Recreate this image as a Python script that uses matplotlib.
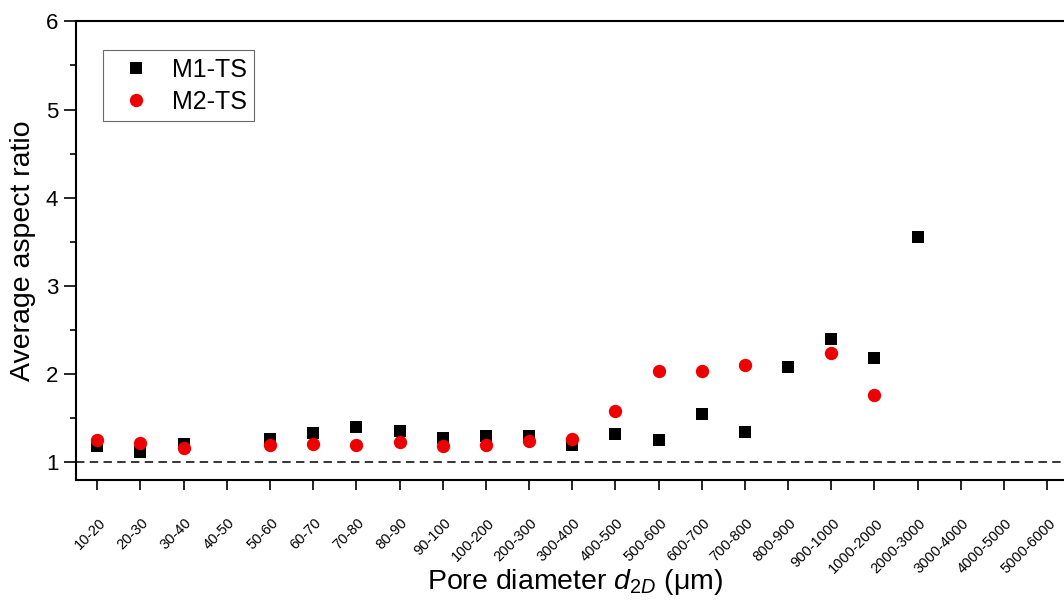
import numpy as np
import matplotlib
matplotlib.use("Agg")
import matplotlib.pyplot as plt
import matplotlib.transforms as mtransforms
from matplotlib.ticker import MultipleLocator

plt.rcParams['font.family'] = ['Liberation Sans', 'DejaVu Sans']
plt.rcParams['mathtext.fontset'] = 'custom'
plt.rcParams['mathtext.rm'] = 'Liberation Sans'
plt.rcParams['mathtext.it'] = 'Liberation Sans:italic'

# Pore-size classes (µm)
categories = ['10-20', '20-30', '30-40', '40-50', '50-60', '60-70', '70-80',
              '80-90', '90-100', '100-200', '200-300', '300-400', '400-500',
              '500-600', '600-700', '700-800', '800-900', '900-1000',
              '1000-2000', '2000-3000', '3000-4000', '4000-5000', '5000-6000']

nan = np.nan
# Average aspect ratio per class
m1_ts = [1.18, 1.12, 1.21, nan, 1.27, 1.33, 1.40, 1.36, 1.28, 1.30, 1.30,
         1.20, 1.32, 1.25, 1.55, 1.34, 2.08, 2.40, 2.18, 3.56, nan, nan, nan]
m2_ts = [1.25, 1.22, 1.16, nan, 1.20, 1.21, 1.20, 1.23, 1.18, 1.20, 1.24,
         1.27, 1.58, 2.04, 2.04, 2.10, nan, 2.24, 1.76, nan, nan, nan, nan]

reference_ratio = 1.0

W, H = 1064, 605
fig = plt.figure(figsize=(W / 100, H / 100), dpi=100)
ax_left, ax_right, ax_top, ax_bottom = 75.7, 1068.8, 21.3, 480.0
ax = fig.add_axes([ax_left / W, 1 - ax_bottom / H,
                   (ax_right - ax_left) / W, (ax_bottom - ax_top) / H])

x = np.arange(len(categories))
ax.axhline(reference_ratio, color='black', lw=1.1, ls=(0, (5.5, 3.5)), zorder=1)
ax.plot(x, m1_ts, ls='none', marker='s', ms=8.4, mfc='black', mec='black',
        mew=0, label='M1-TS', zorder=3)
ax.plot(x, m2_ts, ls='none', marker='o', ms=9.6, mfc='#ee0000', mec='#ee0000',
        mew=0, label='M2-TS', zorder=4)

ax.set_xlim(-0.5, len(categories) - 0.5)
ax.set_ylim(0.8, 6)

ax.yaxis.set_major_locator(MultipleLocator(1))
ax.yaxis.set_minor_locator(MultipleLocator(0.5))
ax.tick_params(axis='x', which='major', direction='out', length=7.2,
               width=1.2, pad=13)
ax.tick_params(axis='y', which='major', direction='out', length=8.5,
               width=1.2, pad=4, labelsize=16)
ax.tick_params(axis='y', which='minor', direction='out', length=4.5, width=1.2)
ax.tick_params(top=False, right=False)

ax.set_xticks(x)
ax.set_xticklabels(categories, rotation=45, ha='right', va='center',
                   rotation_mode='anchor', fontsize=10.5)
# nudge the slanted category labels so their ends sit under the ticks
offset = mtransforms.ScaledTranslation(6 / 100, -13 / 100, fig.dpi_scale_trans)
for lbl in ax.get_xticklabels():
    lbl.set_transform(lbl.get_transform() + offset)

for sp in ax.spines.values():
    sp.set_linewidth(1.5)

ax.set_ylabel('Average aspect ratio', fontsize=20.5)
ax.yaxis.set_label_coords(-0.040, 0.5)
ax.set_xlabel(r'Pore diameter $d_{2D}$ (μm)', fontsize=20.5)
ax.xaxis.set_label_coords(0.503, -0.19)

leg = ax.legend(loc='upper left', bbox_to_anchor=(0.0275, 0.9374),
                borderaxespad=0, fontsize=18, frameon=True, fancybox=False,
                edgecolor='#444444', handlelength=2.0, handletextpad=0.45,
                borderpad=0.3, labelspacing=0.33)
leg.get_frame().set_linewidth(0.8)

fig.savefig('out.png', dpi=100)
